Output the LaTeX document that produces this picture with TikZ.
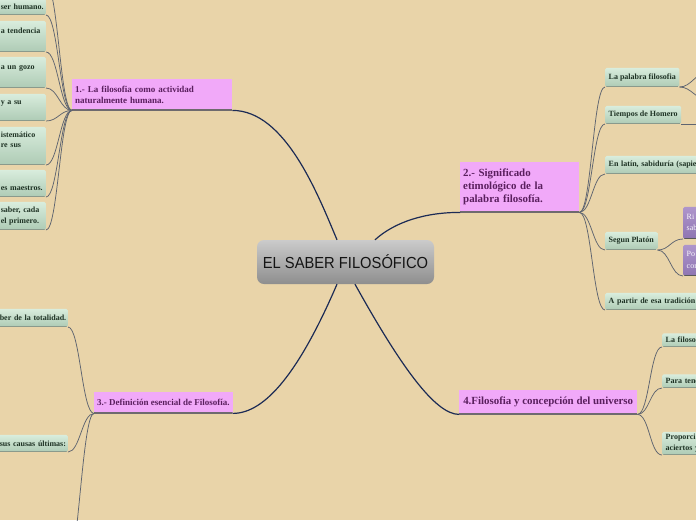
\documentclass[tikz,border=0pt]{standalone}
\usepackage{fontspec}
\usepackage{graphicx}
\setmainfont{Liberation Serif}
\newfontfamily\censf{Liberation Sans}
\usetikzlibrary{calc}
\definecolor{bgc}{HTML}{E9D4A9}
\definecolor{pinkc}{HTML}{F1A9F9}
\definecolor{ptext}{HTML}{5A1F5E}
\definecolor{puline}{HTML}{6E6A6E}
\definecolor{gtop}{HTML}{D9EDDD}
\definecolor{gbot}{HTML}{AECBB5}
\definecolor{gline}{HTML}{8A9A8C}
\definecolor{gtext}{HTML}{1E3224}
\definecolor{ptop}{HTML}{AE95CB}
\definecolor{pbot}{HTML}{8E75B2}
\definecolor{navy}{HTML}{1C2B55}
\definecolor{lgray}{HTML}{5E6470}
\definecolor{cgtop}{HTML}{CBCBCB}
\definecolor{cgbot}{HTML}{8E8E8E}
\definecolor{ctext}{HTML}{141414}
\newcommand\tfS{\fontsize{9}{10.7}\selectfont\bfseries}
\newcommand\tfL{\fontsize{10.9}{13}\selectfont\bfseries}
\newcommand\leaffont{\fontsize{8}{10.7}\selectfont\bfseries}
\newcommand\purpfont{\fontsize{8}{11.5}\selectfont}
\tikzset{
  topic/.style={fill=pinkc, text=ptext, inner xsep=3pt, inner ysep=1pt, anchor=north west,
    path picture={\draw[draw=puline, line width=2.4pt] (path picture bounding box.south west) -- (path picture bounding box.south east);}},
  leaf/.style={top color=gtop, bottom color=gbot, text=gtext, font=\leaffont, inner xsep=3.5pt, inner ysep=1pt, rounded corners=1.5pt, align=left,
    path picture={\draw[draw=gline, line width=2.4pt] (path picture bounding box.south west) -- (path picture bounding box.south east);}},
  leafL/.style={leaf, anchor=south east},
  leafR/.style={leaf, anchor=south west},
  purp/.style={top color=ptop, bottom color=pbot, text=white!92!ptop, font=\purpfont, inner xsep=3.5pt, inner ysep=1pt, rounded corners=1.5pt, align=left, anchor=south west,
    path picture={\draw[draw=gray!70!black, line width=2.4pt] (path picture bounding box.south west) -- (path picture bounding box.south east);}},
  centre/.style={top color=cgtop, bottom color=cgbot, rounded corners=7pt, minimum width=177pt, minimum height=44pt, inner sep=0pt, text=ctext, font=\censf\fontsize{16}{18}\selectfont},
  sub/.style={draw=lgray, line width=0.75pt},
  mainc/.style={draw=navy, line width=1.2pt},
}
\begin{document}
\begin{tikzpicture}[x=1pt,y=-1pt]
\useasboundingbox (0,0) rectangle (696,520);
\fill[bgc] (0,0) rectangle (696,520);
\clip (0,0) rectangle (696,520);

% centre
\node[centre] (c) at (345.5,262) {\scalebox{0.92}[1]{EL SABER FILOSÓFICO}};

% main topics
\node[topic, font=\tfS, minimum width=160pt, minimum height=31pt, text width=154pt, align=left] (n1) at (72,79) {1.- La filosofia como actividad\\naturalmente humana.};
\node[topic, font=\tfL, minimum width=119pt, minimum height=50pt, text width=113pt, align=left] (n2) at (460,162) {2.- Significado\\etimológico de la\\palabra filosofía.};
\node[topic, font=\tfS, minimum width=138pt, minimum height=21pt] (n3) at (94,392) {3.- Definición esencial de Filosofía.};
\node[topic, font=\tfL, minimum width=178pt, minimum height=24pt] (n4) at (459,390) {4.Filosofia y concepción del universo};

% children of topic 1 (cut by the left edge)
\coordinate (a0) at (46,-16);
\node[leafL, text width=41.5pt, minimum height=16pt] (a) at (46,15) {\mbox{ser humano.}};
\node[leafL, text width=41.5pt, minimum height=31pt] (b) at (46,52) {\strut\mbox{a tendencia}\\\strut};
\node[leafL, text width=41.5pt, minimum height=31pt] (cc) at (46,88) {\strut\mbox{a un gozo}\\\strut};
\node[leafL, text width=41.5pt, minimum height=27pt] (d) at (46,121) {\strut\mbox{y a su}\\\strut};
\node[leafL, text width=41.5pt, minimum height=38pt] (e) at (46,165) {\strut\mbox{istemático}\\\strut\mbox{re sus}\\\strut};
\node[leafL, text width=41.5pt, minimum height=27pt] (f) at (46,197) {\strut\\\strut\mbox{es maestros.}};
\node[leafL, text width=41.5pt, minimum height=28pt] (g) at (46,230) {\strut\mbox{saber, cada}\\\strut\mbox{el primero.}};

% children of topic 3
\node[leafL, text width=64.5pt, minimum height=18pt] (h) at (68,327) {\mbox{ber de la totalidad.}};
\node[leafL, text width=64.5pt, minimum height=17pt] (i) at (68,452) {\mbox{sus causas últimas:}};
\coordinate (j0) at (66,575);

% children of topic 2
\node[leafR, minimum height=19pt] (pal) at (605,87) {La palabra filosofia};
\node[leafR, minimum height=18pt] (hom) at (605,124) {Tiempos de Homero};
\node[leafR, minimum height=18pt, text width=100pt] (lat) at (605,174) {\mbox{En latín, sabiduría (sapien}};
\node[leafR, minimum height=18pt] (pla) at (605,250) {Segun Platón};
\node[leafR, minimum height=17pt, text width=100pt] (tra) at (605,310) {\mbox{A partir de esa tradición}};
\node[purp, text width=40pt, minimum height=32pt] (p1) at (683,239) {\strut Ri\\\strut sab};
\node[purp, text width=40pt, minimum height=31pt] (p2) at (683,276) {\strut Po\\\strut con};
\coordinate (pa1) at (708,72);
\coordinate (pa2) at (708,100);
\coordinate (ho1) at (712,124);

% children of topic 4
\node[leafR, minimum height=13.5pt, inner ysep=0pt, text width=60pt] (lf) at (662,347) {La filoso};
\node[leafR, minimum height=13.5pt, inner ysep=0pt, text width=60pt] (pt) at (662,388) {Para tene};
\node[leafR, minimum height=23pt, inner ysep=0pt, text width=60pt] (pr) at (662,455) {\fontsize{8}{10}\selectfont\strut Proporci\\\strut aciertos y};

% main connectors
\draw[mainc] (n1.south east) .. controls +(53,0) and +(-19,-45) .. ($(c.north)+(-8.5,0)$);
\draw[mainc] ($(c.north)+(29.5,0)$) .. controls +(20,-18) and +(-35,0) .. (n2.south west);
\draw[mainc] ($(c.south)+(-8.5,0)$) .. controls +(-37,86) and +(33,0) .. (n3.south east);
\draw[mainc] ($(c.south)+(9.5,0)$) .. controls +(45,81) and +(-24,0) .. (n4.south west);

% sub connectors topic 1
\foreach \t in {a0,a,b,cc,d,e,f,g}
  \draw[sub] (n1.south west) .. controls +(-12,0) and +(12,0) .. (\t.south east);
% topic 3
\foreach \t in {h,i}
  \draw[sub] (n3.south west) .. controls +(-12,0) and +(12,0) .. (\t.south east);
\draw[sub] (n3.south west) .. controls +(-12,0) and +(12,0) .. (j0);
% topic 2
\foreach \t in {pal,hom,lat,pla,tra}
  \draw[sub] (n2.south east) .. controls +(12,0) and +(-12,0) .. (\t.south west);
\draw[sub] (pal.south east) .. controls +(12,0) and +(-12,0) .. (pa1);
\draw[sub] (pal.south east) .. controls +(12,0) and +(-12,0) .. (pa2);
\draw[sub] (hom.south east) -- (ho1);
\draw[sub] (pla.south east) .. controls +(12,0) and +(-12,0) .. (p1.south west);
\draw[sub] (pla.south east) .. controls +(12,0) and +(-12,0) .. (p2.south west);
% topic 4
\foreach \t in {lf,pt,pr}
  \draw[sub] (n4.south east) .. controls +(12,0) and +(-12,0) .. (\t.south west);
\end{tikzpicture}
\end{document}
